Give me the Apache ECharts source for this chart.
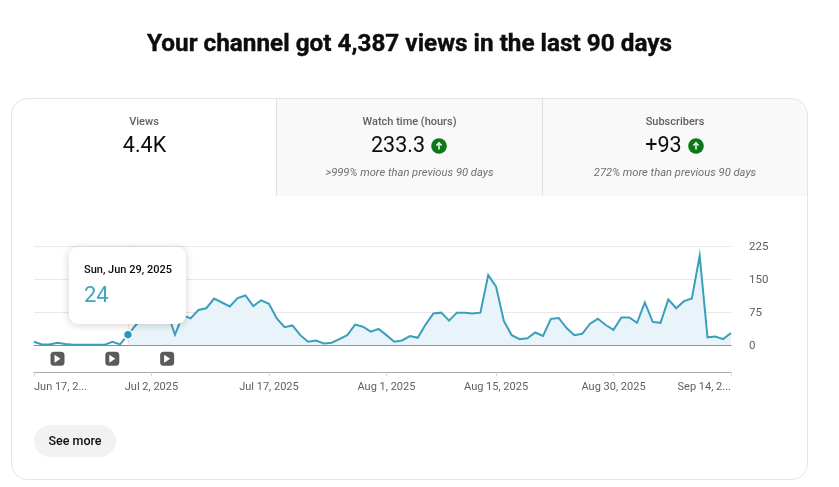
<!DOCTYPE html>
<html>
<head>
<meta charset="utf-8">
<style>
  html, body { margin: 0; padding: 0; background: #fff; }
  #root { width: 839px; height: 487px; }
</style>
<script src="https://cdn.jsdelivr.net/npm/echarts@6/dist/echarts.min.js"></script>
</head>
<body>
<div id="root"></div>
<script>
// one entry per day, Jun 17 - Sep 14 2025
var days = [
  'Jun 17','Jun 18','Jun 19','Jun 20','Jun 21','Jun 22','Jun 23','Jun 24','Jun 25','Jun 26','Jun 27','Jun 28','Jun 29','Jun 30',
  'Jul 1','Jul 2','Jul 3','Jul 4','Jul 5','Jul 6','Jul 7','Jul 8','Jul 9','Jul 10','Jul 11','Jul 12','Jul 13','Jul 14','Jul 15','Jul 16','Jul 17','Jul 18','Jul 19','Jul 20','Jul 21','Jul 22','Jul 23','Jul 24','Jul 25','Jul 26','Jul 27','Jul 28','Jul 29','Jul 30','Jul 31',
  'Aug 1','Aug 2','Aug 3','Aug 4','Aug 5','Aug 6','Aug 7','Aug 8','Aug 9','Aug 10','Aug 11','Aug 12','Aug 13','Aug 14','Aug 15','Aug 16','Aug 17','Aug 18','Aug 19','Aug 20','Aug 21','Aug 22','Aug 23','Aug 24','Aug 25','Aug 26','Aug 27','Aug 28','Aug 29','Aug 30','Aug 31',
  'Sep 1','Sep 2','Sep 3','Sep 4','Sep 5','Sep 6','Sep 7','Sep 8','Sep 9','Sep 10','Sep 11','Sep 12','Sep 13','Sep 14'
];
var views = [
  8, 2, 2, 6, 3, 1, 1, 1, 1, 1, 8, 2, 24, 46,
  62, 72, 70, 76, 24, 68, 61, 80, 84, 106, 97, 88, 107, 113, 89, 102, 94,
  61, 41, 45, 23, 8, 11, 4, 6, 14, 23, 47, 42, 31, 37,
  23, 8, 11, 21, 17, 47, 72, 74, 56, 74, 74, 72, 74, 159, 133, 55, 23, 14, 16,
  29, 21, 60, 62, 39, 23, 26, 49, 60, 46, 35, 63, 63, 51, 97, 53, 51, 104, 84, 100, 106, 203, 18, 20, 14, 28
];
var tickDays = ['Jun 17', 'Jul 2', 'Jul 17', 'Aug 1', 'Aug 15', 'Aug 30', 'Sep 14'];
var tickLabels = ['Jun 17, 2...', 'Jul 2, 2025', 'Jul 17, 2025', 'Aug 1, 2025', 'Aug 15, 2025', 'Aug 30, 2025', 'Sep 14, 2...'];
var yTicks = [0, 75, 150, 225];
var videoDays = ['Jun 20', 'Jun 27', 'Jul 4'];
var hoverDay = 'Jun 29';

var hoverIndex = days.indexOf(hoverDay);
var font = 'Roboto, sans-serif';
var lineColor = '#3a9fbb';

function showTick(index, name) {
  return tickDays.indexOf(name) >= 0;
}

function text(x, y, str, size, color, extra, z) {
  var style = {x: x, y: y, text: str, fontFamily: font, fontSize: size, fill: color,
    align: 'center', verticalAlign: 'middle'};
  for (var k in extra) style[k] = extra[k];
  return {type: 'text', z: z || 5, style: style};
}

// little green "up" badge next to the numbers
function upBadge(x, y) {
  return [
    {type: 'circle', z: 5, shape: {cx: x, cy: y, r: 7.8}, style: {fill: '#0b7a16'}},
    {type: 'polyline', z: 6, shape: {points: [[x, y + 3.5], [x, y - 3.2]]}, style: {stroke: '#fff', lineWidth: 1.5, fill: null}},
    {type: 'polyline', z: 6, shape: {points: [[x - 2.6, y - 0.6], [x, y - 3.2], [x + 2.6, y - 0.6]]}, style: {stroke: '#fff', lineWidth: 1.4, fill: null}}
  ];
}

var graphics = [
  text(409.5, 44.5, 'Your channel got 4,387 views in the last 90 days', 24.3, '#0d0d0d',
    {fontWeight: 'bold', stroke: '#0d0d0d', lineWidth: 0.4}),
  // card and the two inactive tabs
  {type: 'rect', z: 3, shape: {x: 277, y: 99, width: 530, height: 97, r: [0, 16, 0, 0]}, style: {fill: '#f9f9f9'}},
  {type: 'rect', z: 4, shape: {x: 11.5, y: 98.5, width: 796, height: 381, r: 16}, style: {fill: null, stroke: '#e4e4e4', lineWidth: 1}},
  {type: 'line', z: 4, shape: {x1: 276.5, y1: 99, x2: 276.5, y2: 196}, style: {stroke: '#e0e0e0'}},
  {type: 'line', z: 4, shape: {x1: 542.5, y1: 99, x2: 542.5, y2: 196}, style: {stroke: '#e0e0e0'}},

  text(144, 122, 'Views', 11, '#606060', {fontWeight: 500}),
  text(144.5, 147, '4.4K', 21.5, '#0d0d0d'),
  text(409.5, 122, 'Watch time (hours)', 11, '#606060', {fontWeight: 500}),
  text(398, 147, '233.3', 21.5, '#0d0d0d'),
  text(409.5, 173, '>999% more than previous 90 days', 11.2, '#707070', {fontStyle: 'italic'}),
  text(675, 122, 'Subscribers', 11, '#606060', {fontWeight: 500}),
  text(663.5, 147, '+93', 21.5, '#0d0d0d'),
  text(675, 173, '272% more than previous 90 days', 11.2, '#707070', {fontStyle: 'italic'}),

  // tooltip
  {type: 'rect', z: 20, shape: {x: 69, y: 247, width: 117, height: 77, r: 9},
    style: {fill: '#fff', shadowBlur: 8, shadowColor: 'rgba(0,0,0,0.18)', shadowOffsetY: 1}},
  text(84, 270, 'Sun, Jun 29, 2025', 11, '#0d0d0d', {align: 'left', fontWeight: 500}, 21),
  text(84, 296, String(views[hoverIndex]), 22, '#3fa5c1', {align: 'left'}, 21),

  // see more button
  {type: 'rect', z: 3, shape: {x: 34, y: 425, width: 82, height: 32, r: 16}, style: {fill: '#f2f2f2'}},
  text(75, 441.5, 'See more', 12.5, '#0d0d0d', {fontWeight: 500})
].concat(upBadge(439, 146), upBadge(696, 146));

var option = {
  animation: false,
  backgroundColor: '#fff',
  textStyle: {fontFamily: font},
  graphic: graphics,
  grid: [
    {left: 34, width: 697, top: 246, height: 99.3},
    {left: 34, width: 697, top: 345.3, height: 27}
  ],
  xAxis: [
    {
      type: 'category', gridIndex: 0, data: days, boundaryGap: false,
      axisLine: {lineStyle: {color: '#8c8c8c', width: 1}},
      axisTick: {show: false}, axisLabel: {show: false}, splitLine: {show: false}
    },
    {
      type: 'category', gridIndex: 1, data: days, boundaryGap: false,
      axisLine: {lineStyle: {color: '#aaaaaa', width: 1}},
      axisTick: {show: true, length: 4, interval: showTick, lineStyle: {color: '#d8d8d8'}},
      axisLabel: {
        interval: showTick, margin: 9, color: '#606060', fontSize: 11, fontFamily: font,
        alignMinLabel: 'left', alignMaxLabel: 'right',
        formatter: function(name) { return tickLabels[tickDays.indexOf(name)]; }
      },
      splitLine: {show: false}
    }
  ],
  yAxis: [
    {
      type: 'value', gridIndex: 0, position: 'right', min: yTicks[0], max: yTicks[3], interval: yTicks[1],
      axisLine: {show: false}, axisTick: {show: false},
      axisLabel: {
        margin: 18, formatter: '{v|{value}}',
        rich: {v: {color: '#606060', fontSize: 11.5, fontFamily: font, padding: [2, 0, 0, 0]}}
      },
      splitLine: {lineStyle: {color: '#e9e9e9', width: 1}}
    },
    {type: 'value', gridIndex: 1, min: 0, max: 1, show: false}
  ],
  series: [
    {
      // fill only starts at the hovered day
      name: 'fill', type: 'line', xAxisIndex: 0, yAxisIndex: 0, symbol: 'none', z: 2,
      lineStyle: {width: 0}, areaStyle: {color: '#e8f4f9', opacity: 1},
      data: views.map(function(v, i) { return i >= hoverIndex ? v : null; }),
      markLine: {
        silent: true, symbol: 'none', label: {show: false},
        lineStyle: {color: '#efc9cc', type: 'dotted', width: 1},
        data: [{xAxis: hoverDay}]
      }
    },
    {
      name: 'Views', type: 'line', xAxisIndex: 0, yAxisIndex: 0, symbol: 'none', z: 3,
      lineStyle: {color: lineColor, width: 2, join: 'miter'},
      data: views
    },
    {
      name: 'hover', type: 'scatter', xAxisIndex: 0, yAxisIndex: 0, z: 8,
      symbolSize: 9, itemStyle: {color: '#229ac4', borderColor: '#fff', borderWidth: 1.5, opacity: 1},
      data: [[hoverDay, views[hoverIndex]]]
    },
    {
      name: 'videos', type: 'scatter', xAxisIndex: 1, yAxisIndex: 1, z: 4,
      symbol: 'roundRect', symbolSize: 14, itemStyle: {color: '#5a5a5a', opacity: 1},
      data: videoDays.map(function(d) { return [d, 0.5]; })
    },
    {
      name: 'play', type: 'scatter', xAxisIndex: 1, yAxisIndex: 1, z: 5,
      symbol: 'triangle', symbolSize: [8, 6], symbolRotate: -90, itemStyle: {color: '#fff', opacity: 1},
      data: videoDays.map(function(d) { return [d, 0.5]; })
    }
  ]
};

var myChart = echarts.init(document.getElementById('root'));
myChart.setOption(option);
</script>
</body>
</html>
